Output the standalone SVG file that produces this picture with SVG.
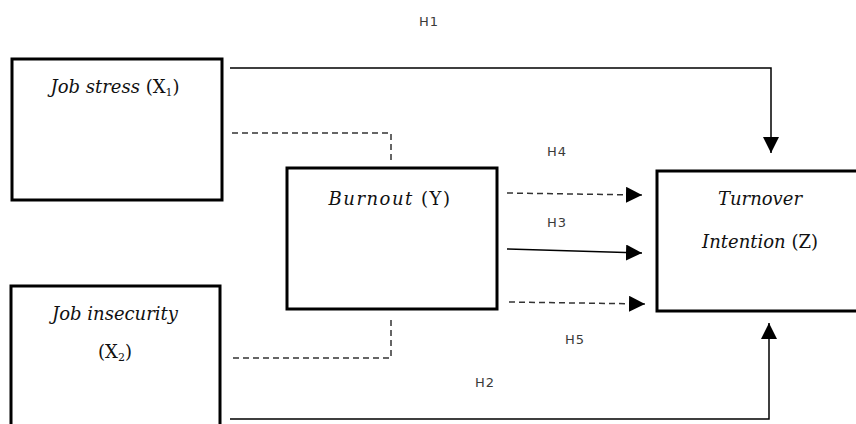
<svg xmlns="http://www.w3.org/2000/svg" width="856" height="424" viewBox="0 0 856 424">
<style>
.box{fill:#fff;stroke:#000;stroke-width:3}
.t{font-family:"DejaVu Serif",serif;font-size:18px;fill:#111}
.i{font-style:italic}
.lbl{font-family:"DejaVu Sans",sans-serif;font-size:13px;letter-spacing:1px;fill:#3a3a3a}
.solid{fill:none;stroke:#000;stroke-width:1.5}
.dash{fill:none;stroke:#333;stroke-width:1.5;stroke-dasharray:6,4}
</style>
<defs>
<marker id="ah" viewBox="0 0 10 10" refX="10" refY="5" markerWidth="16" markerHeight="16" markerUnits="userSpaceOnUse" orient="auto">
<path d="M0,0 L10,5 L0,10 z" fill="#000"/>
</marker>
</defs>
<rect width="856" height="424" fill="#fff"/>
<g id="connectors">
<path class="solid" d="M230,68 H771 V153" marker-end="url(#ah)"/>
<path class="solid" d="M230,419 H769 V323" marker-end="url(#ah)"/>
<path class="dash" d="M232,133 H391 V164"/>
<path class="dash" d="M391,320 V358 H232"/>
<path class="dash" d="M507,193 L642,195" marker-end="url(#ah)"/>
<path class="solid" d="M507,249 L642,253" marker-end="url(#ah)"/>
<path class="dash" d="M509,302 L645,304" marker-end="url(#ah)"/>
<text class="lbl" x="429" y="26" text-anchor="middle">H1</text>
<text class="lbl" x="557" y="156" text-anchor="middle">H4</text>
<text class="lbl" x="557" y="227" text-anchor="middle">H3</text>
<text class="lbl" x="575" y="344" text-anchor="middle">H5</text>
<text class="lbl" x="485" y="387" text-anchor="middle">H2</text>
</g>
<g id="x1">
<rect class="box" x="12" y="59" width="210" height="141"/>
<text class="t" x="115" y="93" text-anchor="middle"><tspan class="i">Job stress</tspan> (X<tspan font-size="11" dy="3">1</tspan><tspan dy="-3">)</tspan></text>
</g>
<g id="x2">
<rect class="box" x="11" y="286" width="209" height="150"/>
<text class="t i" x="115" y="320" text-anchor="middle">Job insecurity</text>
<text class="t" x="115" y="358" text-anchor="middle">(X<tspan font-size="11" dy="3">2</tspan><tspan dy="-3">)</tspan></text>
</g>
<g id="y">
<rect class="box" x="287" y="168" width="210" height="141"/>
<text class="t" x="390" y="205" text-anchor="middle" letter-spacing="1.5"><tspan class="i">Burnout</tspan> (Y)</text>
</g>
<g id="z">
<rect class="box" x="657" y="171" width="210" height="140"/>
<text class="t i" x="760" y="205" text-anchor="middle">Turnover</text>
<text class="t" x="760" y="248" text-anchor="middle"><tspan class="i">Intention</tspan> (Z)</text>
</g>
</svg>
